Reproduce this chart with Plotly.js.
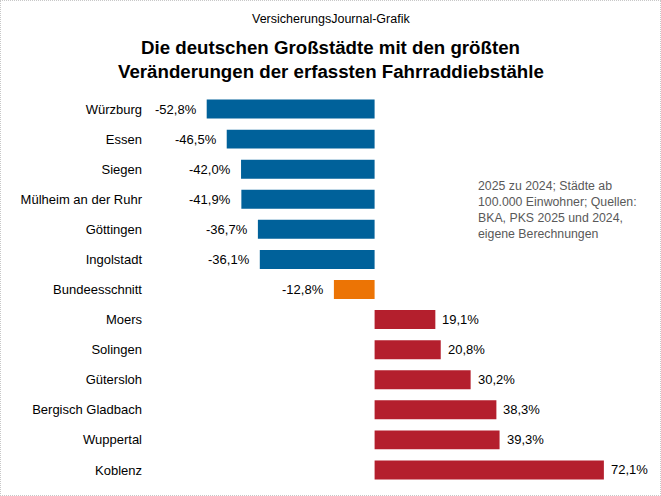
<!DOCTYPE html>
<html>
<head>
<meta charset="utf-8">
<script src="https://cdn.plot.ly/plotly-3.0.1.min.js"></script>
<style>
  html, body { margin: 0; padding: 0; background: #ffffff; }
  #wrap { position: relative; width: 661px; height: 496px; }
  #chart { width: 661px; height: 496px; }
  #frame { position: absolute; left: 0; top: 0; width: 659px; height: 494px;
           border: 1px dotted #c8c8c8; pointer-events: none; }
</style>
</head>
<body>
<div id="wrap">
  <div id="chart"></div>
  <div id="frame"></div>
</div>
<script>
// Cities, top to bottom
const cities = [
  "Würzburg", "Essen", "Siegen", "Mülheim an der Ruhr", "Göttingen", "Ingolstadt",
  "Bundeesschnitt", "Moers", "Solingen", "Gütersloh", "Bergisch Gladbach", "Wuppertal", "Koblenz"
];
// Change 2025 vs 2024 in percent
const changes = [-52.8, -46.5, -42.0, -41.9, -36.7, -36.1, -12.8, 19.1, 20.8, 30.2, 38.3, 39.3, 72.1];
const averageLabel = "Bundeesschnitt";

const BLUE = "#00619A", ORANGE = "#EC7405", RED = "#B41F2D";
const FONT = "Liberation Sans, Arial, sans-serif";

const W = 661, H = 496;
const M = { l: 152, r: 32, t: 94, b: 11 };
const plotW = W - M.l - M.r, plotH = H - M.t - M.b;
const xRange = [-70, 80];

// helpers: pixel position -> paper fraction
const px = x => (x - M.l) / plotW;
const py = y => (H - M.b - y) / plotH;

const barColors = cities.map((c, i) =>
  c === averageLabel ? ORANGE : (changes[i] < 0 ? BLUE : RED));

const fmt = v => v.toFixed(1).replace(".", ",") + "%";

const bars = {
  type: "bar",
  orientation: "h",
  x: changes,
  y: cities,
  marker: { color: barColors, line: { width: 0 } },
  hoverinfo: "skip",
  showlegend: false
};

// value labels beside each bar end
const valueLabels = changes.map((v, i) => ({
  x: v, y: cities[i], xref: "x", yref: "y",
  text: fmt(v), showarrow: false,
  xanchor: v < 0 ? "right" : "left",
  xshift: v < 0 ? -8 : 5,
  font: { family: FONT, size: 13, color: "#000000" }
}));

const header = [
  { text: "VersicherungsJournal-Grafik", x: px(W / 2), y: py(19),
    font: { family: FONT, size: 12.5, color: "#000000" } },
  { text: "<b>Die deutschen Großstädte mit den größten</b>", x: px(W / 2), y: py(47),
    font: { family: FONT, size: 18.7, color: "#000000" } },
  { text: "<b>Veränderungen der erfassten Fahrraddiebstähle</b>", x: px(W / 2), y: py(72),
    font: { family: FONT, size: 18.7, color: "#000000" } }
].map(a => Object.assign({ xref: "paper", yref: "paper", showarrow: false,
  xanchor: "center", yanchor: "middle" }, a));

const note = {
  xref: "paper", yref: "paper", x: px(476), y: py(177),
  xanchor: "left", yanchor: "top", align: "left", showarrow: false,
  text: "2025 zu 2024; Städte ab<br>100.000 Einwohner; Quellen:<br>BKA, PKS 2025 und 2024,<br>eigene Berechnungen",
  font: { family: FONT, size: 12.3, color: "#595959" }
};

const n = cities.length;
const layout = {
  width: W, height: H,
  margin: M,
  paper_bgcolor: "#ffffff", plot_bgcolor: "#ffffff",
  bargap: 0.37,
  xaxis: { range: xRange, visible: false, fixedrange: true },
  yaxis: {
    type: "category", autorange: "reversed",
    showgrid: false, zeroline: false, showline: false, ticks: "",
    ticklabelstandoff: 9,
    tickfont: { family: FONT, size: 13, color: "#000000" },
    fixedrange: true
  },
  // vertical baseline at zero with ticks between categories
  yaxis2: {
    overlaying: "y", anchor: "free", side: "left",
    position: (0 - xRange[0]) / (xRange[1] - xRange[0]),
    range: [n - 0.5, -0.5],
    tickmode: "linear", tick0: -0.5, dtick: 1,
    ticks: "outside", ticklen: 4, tickcolor: "#d9d9d9", tickwidth: 1,
    showticklabels: false, showgrid: false, zeroline: false,
    showline: true, linecolor: "#d9d9d9", linewidth: 1,
    fixedrange: true
  },
  annotations: header.concat([note], valueLabels)
};

Plotly.newPlot("chart", [bars], layout, { displayModeBar: false, staticPlot: true });
</script>
</body>
</html>
